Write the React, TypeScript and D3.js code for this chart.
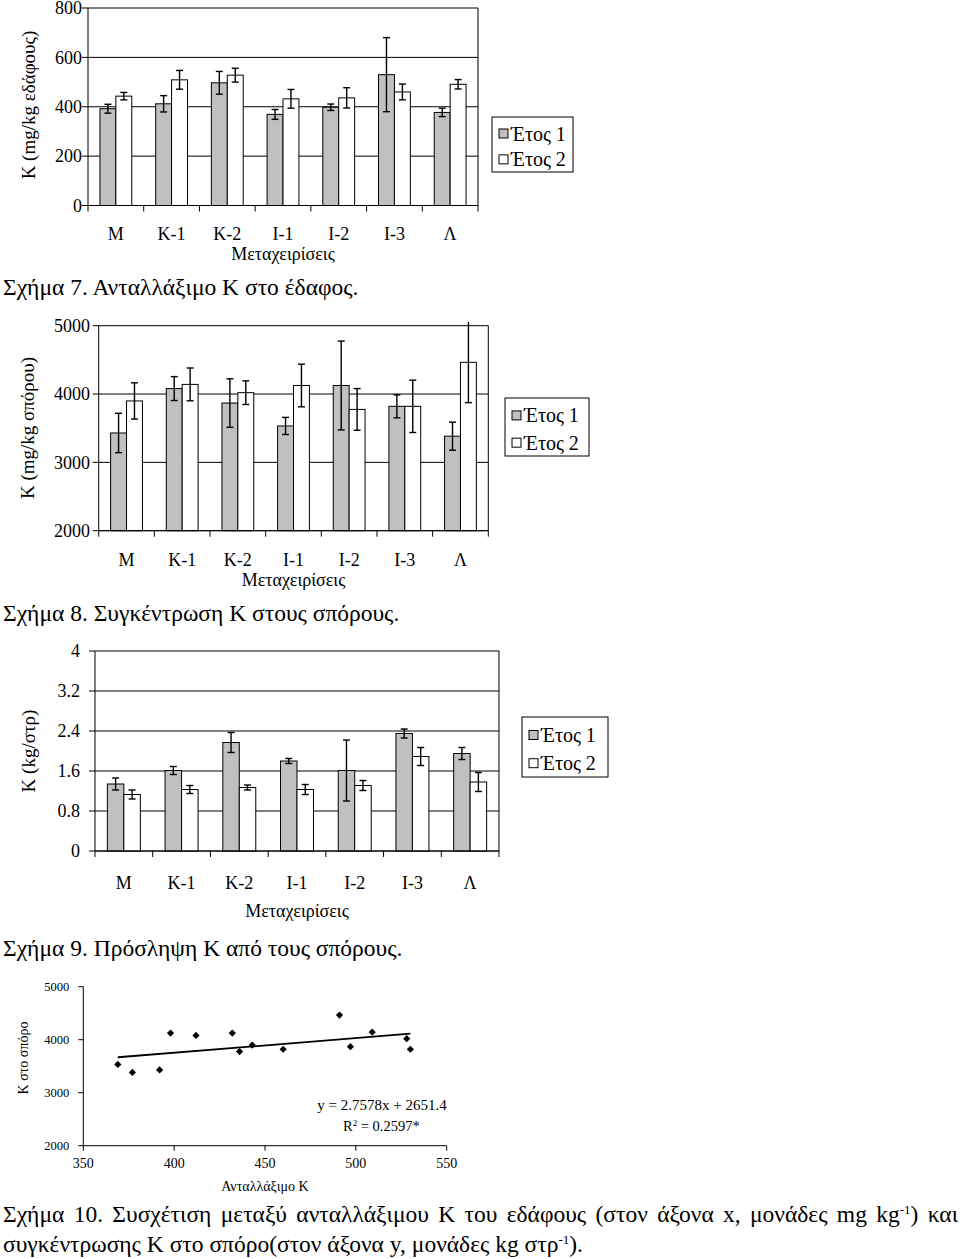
import React, { useLayoutEffect, useRef } from 'react';
import * as d3 from 'd3';

// ---------- data ----------
const treatments = ['Μ', 'Κ-1', 'Κ-2', 'Ι-1', 'Ι-2', 'Ι-3', 'Λ'];
const seriesNames = ['Έτος 1', 'Έτος 2'];

// Fig 7: exchangeable soil K (mg/kg)
const soilK_y1 = [392, 412, 497, 369, 398, 530, 377];
const soilK_y2 = [443, 509, 528, 432, 436, 460, 491];
const soilErr_y1 = [18, 33, 46, 20, 13, 150, 17];
const soilErr_y2 = [15, 38, 28, 38, 41, 32, 19];
const soilTicks = [0, 200, 400, 600, 800];

// Fig 8: seed K concentration (mg/kg)
const seedK_y1 = [3430, 4080, 3868, 3533, 4125, 3820, 3383];
const seedK_y2 = [3899, 4141, 4020, 4125, 3775, 3820, 4464];
const seedErr_y1 = [288, 175, 355, 125, 650, 168, 205];
const seedErr_y2 = [265, 240, 173, 312, 305, 383, 590];
const seedTicks = [2000, 3000, 4000, 5000];

// Fig 9: K uptake (kg/στρ)
const uptake_y1 = [1.34, 1.61, 2.17, 1.8, 1.61, 2.35, 1.95];
const uptake_y2 = [1.13, 1.23, 1.27, 1.23, 1.31, 1.89, 1.38];
const uptakeErr_y1 = [0.12, 0.08, 0.2, 0.05, 0.61, 0.09, 0.12];
const uptakeErr_y2 = [0.09, 0.08, 0.05, 0.1, 0.1, 0.18, 0.19];
const uptakeTicks = [0, 0.8, 1.6, 2.4, 3.2, 4];

// Fig 10: regression
const regSlope = 2.7578;
const regIntercept = 2651.4;
const scatterXTicks = [350, 400, 450, 500, 550];
const scatterYTicks = [2000, 3000, 4000, 5000];

const FONT = '"Liberation Serif", "Times New Roman", serif';
const GRAY = '#c0c0c0';
const CAP = 23.5;

type BarProps = {
  y1: number[]; y2: number[]; e1: number[]; e2: number[];
  domain: [number, number]; ticks: number[]; fmt: (v: number) => string;
  L: number; R: number; T: number; B: number;
  labelEnd: number; catBase: number; titleBase: number;
  yTitle: string; yTitleX: number; yTitleY: number;
  legend: [number, number, number, number];
};

function BarChart(p: BarProps) {
  const x = d3.scaleBand<string>().domain(treatments).range([p.L, p.R]).padding(0);
  const bw = x.bandwidth() / 3.5;
  const y = d3.scaleLinear().domain(p.domain).range([p.B, p.T]);
  const series = [
    { vals: p.y1, errs: p.e1, fill: GRAY, off: 0.75 },
    { vals: p.y2, errs: p.e2, fill: '#ffffff', off: 1.75 },
  ];
  const [lx, ly, lw, lh] = p.legend;
  const boundaries = [...treatments.map((t) => x(t) as number), p.R];
  return (
    <g fontFamily={FONT}>
      {p.ticks.map((t) => (
        <g key={t}>
          <line x1={p.L - 6} x2={p.R} y1={y(t)} y2={y(t)} stroke="#000" strokeWidth={1} />
          <text x={p.labelEnd} y={y(t)} dy="0.35em" textAnchor="end" fontSize={18}>{p.fmt(t)}</text>
        </g>
      ))}
      <line x1={p.R} x2={p.R} y1={p.T} y2={p.B} stroke="#000" strokeWidth={1} />
      {series.map((s, si) =>
        treatments.map((t, i) => {
          const bx = (x(t) as number) + s.off * bw;
          return (
            <rect key={si + t} x={bx} y={y(s.vals[i])} width={bw} height={p.B - y(s.vals[i])}
              fill={s.fill} stroke="#000" strokeWidth={1} />
          );
        })
      )}
      {series.map((s, si) =>
        treatments.map((t, i) => {
          const cx = (x(t) as number) + (s.off + 0.5) * bw;
          const top = y(Math.min(s.vals[i] + s.errs[i], p.domain[1] + (p.domain[1] - p.domain[0]) * 0.02));
          const bot = y(s.vals[i] - s.errs[i]);
          return (
            <g key={'e' + si + t} stroke="#000" strokeWidth={1.4}>
              <line x1={cx} x2={cx} y1={top} y2={bot} />
              {s.vals[i] + s.errs[i] <= p.domain[1] && <line x1={cx - 3.5} x2={cx + 3.5} y1={top} y2={top} />}
              <line x1={cx - 3.5} x2={cx + 3.5} y1={bot} y2={bot} />
            </g>
          );
        })
      )}
      <line x1={p.L} x2={p.L} y1={p.T} y2={p.B} stroke="#000" strokeWidth={1} />
      <line x1={p.L} x2={p.R} y1={p.B} y2={p.B} stroke="#000" strokeWidth={1} />
      {boundaries.map((bx, i) => (
        <line key={'tk' + i} x1={bx} x2={bx} y1={p.B} y2={p.B + 6} stroke="#000" strokeWidth={1} />
      ))}
      {treatments.map((t) => (
        <text key={'c' + t} x={(x(t) as number) + x.bandwidth() / 2} y={p.catBase} textAnchor="middle" fontSize={18}>{t}</text>
      ))}
      <text x={(p.L + p.R) / 2} y={p.titleBase} textAnchor="middle" fontSize={18}>Μεταχειρίσεις</text>
      <text transform={`translate(${p.yTitleX},${p.yTitleY}) rotate(-90)`} textAnchor="middle" dy="0.35em" fontSize={19}>{p.yTitle}</text>
      <rect x={lx} y={ly} width={lw} height={lh} fill="#fff" stroke="#000" strokeWidth={1} />
      {seriesNames.map((n, i) => {
        const cy = ly + lh * (i === 0 ? 0.3 : 0.77);
        return (
          <g key={n}>
            <rect x={lx + 7} y={cy - 4.5} width={9} height={9} fill={i === 0 ? GRAY : '#fff'} stroke="#000" strokeWidth={1} />
            <text x={lx + 19} y={cy} dy="0.35em" fontSize={20}>{n}</text>
          </g>
        );
      })}
    </g>
  );
}

function Scatter() {
  const L = 83.3, R = 446.7, T = 986.7, B = 1145.7;
  const x = d3.scaleLinear().domain([350, 550]).range([L, R]);
  const y = d3.scaleLinear().domain([2000, 5000]).range([B, T]);
  const pts = [
    ...soilK_y1.map((v, i) => [v, seedK_y1[i]]),
    ...soilK_y2.map((v, i) => [v, seedK_y2[i]]),
  ];
  const xs = pts.map((p) => p[0]);
  const xMin = d3.min(xs) as number, xMax = d3.max(xs) as number;
  const line = d3.line<number>().x((v) => x(v)).y((v) => y(regSlope * v + regIntercept));
  const diamond = d3.symbol().type(d3.symbolSquare).size(26)();
  return (
    <g fontFamily={FONT}>
      <line x1={L} x2={L} y1={T} y2={B} stroke="#000" />
      <line x1={L} x2={R} y1={B} y2={B} stroke="#000" />
      {scatterYTicks.map((t) => (
        <g key={t}>
          <line x1={L - 5} x2={L} y1={y(t)} y2={y(t)} stroke="#000" />
          <text x={L - 14} y={y(t)} dy="0.35em" textAnchor="end" fontSize={12.5}>{t}</text>
        </g>
      ))}
      {scatterXTicks.map((t) => (
        <g key={t}>
          <line x1={x(t)} x2={x(t)} y1={B} y2={B + 5} stroke="#000" />
          <text x={x(t)} y={B + 22} textAnchor="middle" fontSize={14}>{t}</text>
        </g>
      ))}
      {pts.map((p, i) => (
        <path key={i} d={diamond as string} transform={`translate(${x(p[0])},${y(p[1])}) rotate(45)`} fill="#000" />
      ))}
      <path d={line([xMin, xMax]) as string} stroke="#000" strokeWidth={1.8} fill="none" />
      <text x={382} y={1110} textAnchor="middle" fontSize={15}>y = 2.7578x + 2651.4</text>
      <text x={343} y={1131} fontSize={14.5}>R<tspan dy={-5} fontSize={9}>2</tspan><tspan dy={5}> = 0.2597*</tspan></text>
      <text x={(L + R) / 2} y={1191} textAnchor="middle" fontSize={14}>Ανταλλάξιμο Κ</text>
      <text transform="translate(23,1058) rotate(-90)" textAnchor="middle" dy="0.35em" fontSize={14}>Κ στο σπόρο</text>
    </g>
  );
}

function JustifiedLine({ x, y, width, children }: { x: number; y: number; width: number; children: React.ReactNode }) {
  const ref = useRef<SVGTextElement>(null);
  useLayoutEffect(() => {
    const el = ref.current;
    if (!el) return;
    el.removeAttribute('word-spacing');
    const natural = el.getComputedTextLength();
    const spaces = (el.textContent || '').split(' ').length - 1;
    if (spaces > 0 && natural < width) {
      el.setAttribute('word-spacing', String((width - natural) / spaces));
    }
  }, [width]);
  return (
    <text ref={ref} x={x} y={y} fontSize={CAP} fontFamily={FONT}>{children}</text>
  );
}

export default function App() {
  return (
    <svg width={960} height={1259} style={{ position: 'absolute', left: 0, top: 0, background: '#fff' }}>
      <rect x={0} y={0} width={960} height={1259} fill="#fff" />
      <BarChart y1={soilK_y1} y2={soilK_y2} e1={soilErr_y1} e2={soilErr_y2}
        domain={[0, 800]} ticks={soilTicks} fmt={(v) => String(v)}
        L={88} R={478} T={8} B={205.5} labelEnd={82} catBase={240} titleBase={260}
        yTitle="Κ (mg/kg εδάφους)" yTitleX={28} yTitleY={105} legend={[492, 117, 81, 55]} />
      <text x={3} y={295} fontSize={CAP} fontFamily={FONT}>Σχήμα 7. Ανταλλάξιμο Κ στο έδαφος.</text>

      <BarChart y1={seedK_y1} y2={seedK_y2} e1={seedErr_y1} e2={seedErr_y2}
        domain={[2000, 5000]} ticks={seedTicks} fmt={(v) => String(v)}
        L={98.7} R={488.3} T={325.7} B={530.7} labelEnd={90} catBase={566} titleBase={586}
        yTitle="Κ (mg/kg σπόρου)" yTitleX={27} yTitleY={428} legend={[505, 398, 84, 58]} />
      <text x={3} y={621} fontSize={CAP} fontFamily={FONT}>Σχήμα 8. Συγκέντρωση Κ στους σπόρους.</text>

      <BarChart y1={uptake_y1} y2={uptake_y2} e1={uptakeErr_y1} e2={uptakeErr_y2}
        domain={[0, 4]} ticks={uptakeTicks} fmt={(v) => String(v)}
        L={95} R={499} T={651} B={851} labelEnd={80} catBase={889} titleBase={917}
        yTitle="Κ (kg/στρ)" yTitleX={28} yTitleY={751} legend={[522, 717, 86, 60]} />
      <text x={3} y={956} fontSize={CAP} fontFamily={FONT}>Σχήμα 9. Πρόσληψη Κ από τους σπόρους.</text>

      <Scatter />

      <JustifiedLine x={3} y={1222} width={955}>
        Σχήμα 10. Συσχέτιση μεταξύ ανταλλάξιμου Κ του εδάφους (στον άξονα x, μονάδες mg kg<tspan dy={-8} fontSize={13}>-1</tspan><tspan dy={8}>) και</tspan>
      </JustifiedLine>
      <text x={3} y={1252} fontSize={CAP} fontFamily={FONT}>
        συγκέντρωσης Κ στο σπόρο(στον άξονα y, μονάδες kg στρ<tspan dy={-8} fontSize={13}>-1</tspan><tspan dy={8}>).</tspan>
      </text>
    </svg>
  );
}
